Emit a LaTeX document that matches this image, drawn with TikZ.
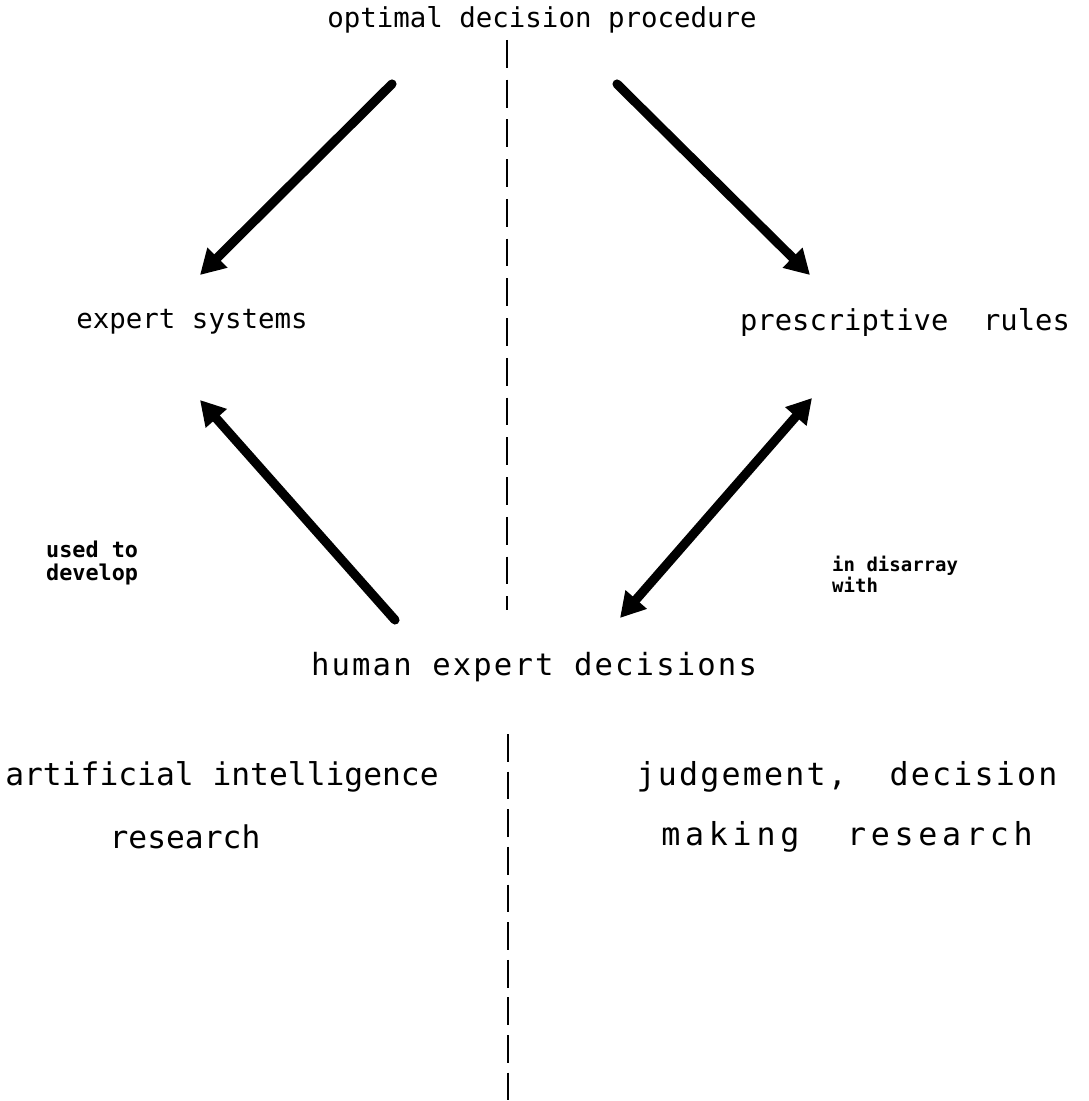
\documentclass[tikz,border=0pt]{standalone}
\usepackage{fontspec}
\newfontfamily\plotfont{DejaVu Sans Mono}
\newfontfamily\plotfontwide[LetterSpace=7]{DejaVu Sans Mono}
\newfontfamily\plotfontwider[LetterSpace=15]{DejaVu Sans Mono}
\usetikzlibrary{arrows.meta, positioning, calc}

\tikzset{
  lbl/.style={font=\plotfont\fontsize{7.8}{9}\selectfont, inner sep=1pt},
  lblwide/.style={font=\plotfontwide\fontsize{8.7}{10}\selectfont, inner sep=1pt},
  field/.style={font=\plotfont\fontsize{8.9}{11}\selectfont, inner sep=1pt},
  fieldwide/.style={font=\plotfontwide\fontsize{9}{11}\selectfont, inner sep=1pt},
  fieldwider/.style={font=\plotfontwider\fontsize{9}{11}\selectfont, inner sep=1pt},
  note/.style={font=\plotfont\bfseries\fontsize{6.2}{6.6}\selectfont, align=left, anchor=west, inner sep=1pt},
  notesmall/.style={font=\plotfont\bfseries\fontsize{5.4}{6}\selectfont, align=left, anchor=west, inner sep=1pt},
  fat/.style={line width=2.6pt, line cap=round, -{Triangle[length=7pt,width=7.6pt]}},
  divider/.style={line width=0.6pt}
}

\begin{document}
\begin{tikzpicture}[x=0.01cm, y=-0.01cm]
        \useasboundingbox (0,0) rectangle (1089,1101);
        % Labels of the four corners
        \node[lbl] (opt) at (542,20) {optimal decision procedure};
        \node[lbl] (es) at (192,322) {expert systems};
        \node[lbl, font=\plotfont\fontsize{8.2}{9}\selectfont] (pr) at (905,322) {prescriptive\ \ rules};
        \node[lblwide] (hed) at (534,667) {human expert decisions};
        % Arrow labels
        \node[note] (use) at (42,563) {used to\\develop};
        \node[notesmall] (dis) at (828,574) {in disarray\\with};
        % Research fields
        \node[field] (ai) at (222,777) {artificial intelligence};
        \node[field] (air) at (185,837) {research};
        \node[fieldwide] (jd) at (847,777) {judgement,\ \ decision};
        \node[fieldwider] (jdm) at (847,837) {making\ \ research};
        % Arrow ends
        \coordinate (opt-l) at (392,84);
        \coordinate (opt-r) at (617,84);
        \coordinate (es-t) at (200,275);
        \coordinate (es-b) at (200,400);
        \coordinate (pr-t) at (810,275);
        \coordinate (pr-b) at (812,398);
        \coordinate (hed-l) at (395,620);
        \coordinate (hed-r) at (620,618);
        % Arrows
        \draw[fat] (opt-l) -- (es-t);
        \draw[fat] (opt-r) -- (pr-t);
        \draw[fat] (hed-l) -- (es-b);
        \draw[fat, {Triangle[length=7pt,width=7.6pt]}-{Triangle[length=7pt,width=7.6pt]}] (hed-r) -- (pr-b);
        % Dashed dividers
        \coordinate (div-a) at (507,40);
        \coordinate (div-b) at (507,610);
        \coordinate (div-c) at (508,734);
        \coordinate (div-d) at (508,1101);
        \draw[divider, dash pattern=on 7.9pt off 3.4pt] (div-a) -- (div-b);
        \draw[divider, dash pattern=on 7.9pt off 2.8pt] (div-c) -- (div-d);
      \end{tikzpicture}
\end{document}
